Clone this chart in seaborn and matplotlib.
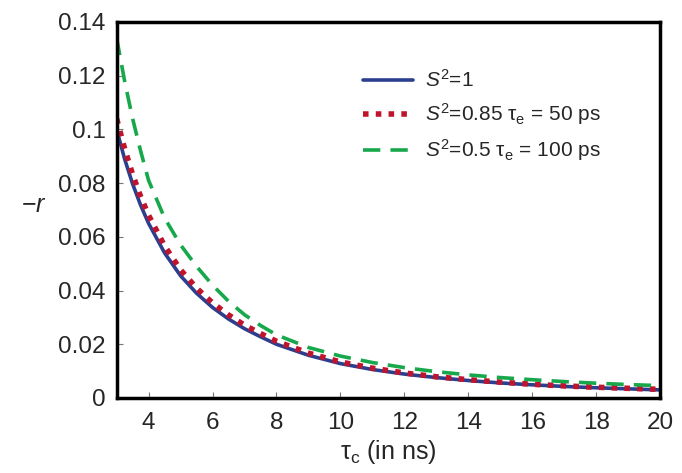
import numpy as np
import pandas as pd
import matplotlib
matplotlib.use("Agg")
import matplotlib.pyplot as plt
import seaborn as sns

# tau_c values (ns) and -r
tau_c = [3, 3.25, 3.5, 3.75, 4, 4.5, 5, 5.5, 6, 6.5, 7, 7.5, 8, 9, 10,
         11, 12, 13, 14, 15, 16, 17, 18, 19, 20]
r_s1 = [0.100, 0.0890, 0.0797, 0.0718, 0.0650, 0.0540, 0.0455, 0.0390, 0.0337,
        0.0294, 0.0258, 0.0228, 0.0200, 0.0159, 0.0128, 0.0106, 0.0089, 0.0076,
        0.0065, 0.0056, 0.0049, 0.0043, 0.0038, 0.0034, 0.0030]
r_s085 = [0.104, 0.0928, 0.0832, 0.0750, 0.0680, 0.0566, 0.0477, 0.0409, 0.0354,
          0.0309, 0.0271, 0.0240, 0.0211, 0.0167, 0.0134, 0.0111, 0.0093, 0.0079,
          0.0068, 0.0059, 0.0051, 0.0045, 0.0040, 0.0036, 0.0032]
r_s05 = [0.134, 0.118, 0.104, 0.092, 0.081, 0.067, 0.057, 0.049, 0.042, 0.036,
         0.031, 0.027, 0.0235, 0.0188, 0.0156, 0.0132, 0.0113, 0.0098, 0.0086,
         0.0076, 0.0068, 0.0061, 0.0055, 0.0050, 0.0046]
labels = [r'$S^2$=1', r'$S^2$=0.85 $\mathrm{\tau}_\mathrm{e}$ = 50 ps',
          r'$S^2$=0.5 $\mathrm{\tau}_\mathrm{e}$ = 100 ps']

sns.set_style("white")
plt.rcParams['font.family'] = ['Liberation Sans', 'DejaVu Sans']
plt.rcParams['mathtext.fontset'] = 'custom'
plt.rcParams['mathtext.rm'] = 'Liberation Sans'
plt.rcParams['mathtext.it'] = 'Liberation Sans:italic'
plt.rcParams['mathtext.sf'] = 'Liberation Sans'

fig = plt.figure(figsize=(6.82, 4.73), dpi=100)
ax = fig.add_axes([0.171, 0.1586, 0.797, 0.795])

df1 = pd.DataFrame({'tau': tau_c, 'r': r_s1})
df2 = pd.DataFrame({'tau': tau_c, 'r': r_s085})
df3 = pd.DataFrame({'tau': tau_c, 'r': r_s05})

sns.lineplot(data=df1, x='tau', y='r', ax=ax, color='#2b3f8e', lw=2.6, label=labels[0])
sns.lineplot(data=df2, x='tau', y='r', ax=ax, color='#c0142c', lw=4, label=labels[1])
ax.lines[-1].set_dashes([1.0, 1.3])
sns.lineplot(data=df3, x='tau', y='r', ax=ax, color='#17a84b', lw=2.6, label=labels[2])
ax.lines[-1].set_dashes([4.8, 2.8])

ax.set_xlim(3, 20)
ax.set_ylim(0, 0.14)
ax.set_xticks([4, 6, 8, 10, 12, 14, 16, 18, 20])
ax.set_yticks([0, 0.02, 0.04, 0.06, 0.08, 0.1, 0.12, 0.14])
ax.set_yticklabels(['0', '0.02', '0.04', '0.06', '0.08', '0.1', '0.12', '0.14'])
ax.tick_params(direction='in', length=4, width=0.8, color='#777777',
               labelsize=17.5, pad=8, left=True, bottom=True)
ax.tick_params(axis='x', pad=10)
for sp in ax.spines.values():
    sp.set_color('black')
    sp.set_linewidth(2.5)

ax.set_xlabel(r'$\mathrm{\tau}_\mathrm{c}$ (in ns)', fontsize=18, labelpad=3)
ax.set_ylabel(r'$-r$', fontsize=18, rotation=0, va='center', ha='center')
ax.yaxis.set_label_coords(-0.152, 0.513)

ax.legend(loc='upper left', bbox_to_anchor=(0.418, 0.925), frameon=False,
          fontsize=15, handlelength=2.4, labelspacing=0.5, handletextpad=0.6)

fig.savefig('out.png', dpi=100)
